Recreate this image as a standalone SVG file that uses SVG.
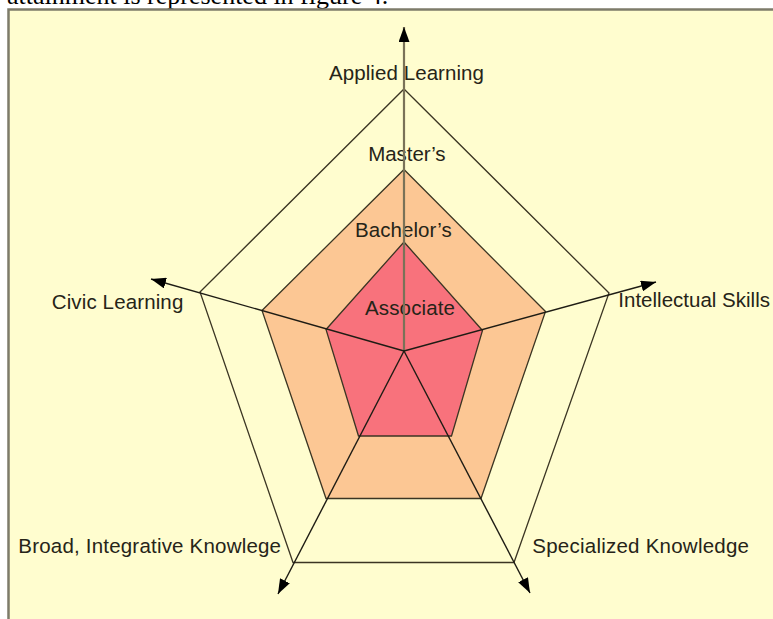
<svg xmlns="http://www.w3.org/2000/svg" width="773" height="619" viewBox="0 0 773 619">
  <style>
    .label { font-family: "Liberation Sans", Arial, sans-serif; font-size: 20.5px; fill: #262418; }
    .caption { font-family: "Liberation Serif", "Times New Roman", serif; font-size: 26px; fill: #000; }
    .ring { stroke: #3b3523; stroke-width: 1.3; stroke-linejoin: miter; }
    .axis { stroke: #1e1c14; stroke-width: 1.4; fill: none; }
    .axis-main { stroke: #7a7258; stroke-width: 2.2; fill: none; }
  </style>
  <defs>
    <marker id="arrow" markerUnits="userSpaceOnUse" markerWidth="15" markerHeight="11" refX="15" refY="5.5" orient="auto">
      <path d="M0,0 L15,5.5 L0,11 z" fill="#000"/>
    </marker>
  </defs>

  <!-- running text above the figure -->
  <text class="caption" x="7" y="3.5">attainment is represented in figure 4.</text>

  <!-- figure panel -->
  <rect x="8.5" y="9.5" width="800" height="650" fill="#FFFDCF" stroke="#7d7b6a" stroke-width="2.5"/>

  <!-- degree levels -->
  <g id="outer-level">
    <polygon class="ring" points="404,89 609,293 514,562.5 293,562.5 200,292" fill="none"/>
  </g>
  <g id="masters-level">
    <polygon class="ring" points="404,169.5 545.5,311.5 481,498.5 326,498.5 262,310.5" fill="#FCC794"/>
  </g>
  <g id="associate-level">
    <polygon class="ring" points="404,242 482.5,330.5 451.5,436 358.5,436 326,329.5" fill="#F8727C"/>
  </g>

  <!-- labels -->
  <g id="applied-learning"><text class="label" x="329" y="80" textLength="155">Applied Learning</text></g>
  <g id="masters"><text class="label" x="368.3" y="160.7" textLength="77.3">Master’s</text></g>
  <g id="bachelors"><text class="label" x="355" y="236.7" textLength="96.7">Bachelor’s</text></g>
  <g id="associate"><text class="label" x="365" y="315" textLength="90">Associate</text></g>
  <g id="civic-learning"><text class="label" x="51.7" y="309" textLength="131.6">Civic Learning</text></g>
  <g id="intellectual-skills"><text class="label" x="618.3" y="307" textLength="151.7">Intellectual Skills</text></g>
  <g id="broad-knowledge"><text class="label" x="18.3" y="553.3" textLength="262.7">Broad, Integrative Knowlege</text></g>
  <g id="specialized-knowledge"><text class="label" x="532.3" y="552.7" textLength="216.7">Specialized Knowledge</text></g>

  <!-- axes radiating from the centre -->
  <g id="axes">
    <line class="axis-main" x1="404" y1="351" x2="404" y2="27" marker-end="url(#arrow)"/>
    <line class="axis" x1="404" y1="351" x2="151" y2="279" marker-end="url(#arrow)"/>
    <line class="axis" x1="404" y1="351" x2="656" y2="282" marker-end="url(#arrow)"/>
    <line class="axis" x1="404" y1="351" x2="278" y2="594" marker-end="url(#arrow)"/>
    <line class="axis" x1="404" y1="351" x2="530" y2="593" marker-end="url(#arrow)"/>
  </g>
</svg>
